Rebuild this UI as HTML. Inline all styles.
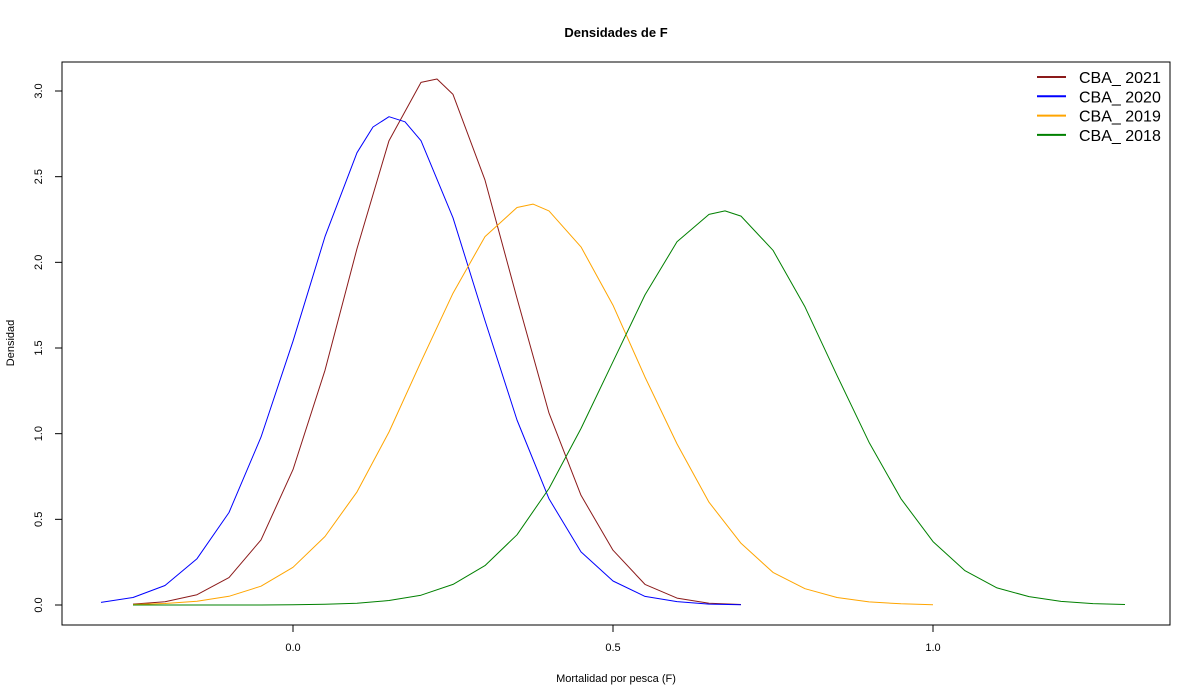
<!DOCTYPE html>
<html><head><meta charset="utf-8"><style>
body{margin:0;background:#fff;}
svg{display:block;font-family:"Liberation Sans",Arial,sans-serif;}
</style></head><body>
<svg id="chart" width="1200" height="700">
<rect x="0" y="0" width="1200" height="700" fill="#fff"/>
<text x="616" y="37" text-anchor="middle" font-size="13" font-weight="bold">Densidades de F</text>
<rect x="62" y="62" width="1108" height="563" fill="none" stroke="#000" stroke-width="1"/>
<text x="616" y="682" text-anchor="middle" font-size="11">Mortalidad por pesca (F)</text>
<text transform="translate(14,343) rotate(-90)" text-anchor="middle" font-size="11">Densidad</text>
<g id="axes"></g>
<g id="series"></g>
<g id="legend"></g>
</svg>
<script>
const xTicks=[0.0,0.5,1.0];
const xTickLabels=["0.0","0.5","1.0"];
const yTicks=[0,0.5,1,1.5,2,2.5,3];
const yTickLabels=["0.0","0.5","1.0","1.5","2.0","2.5","3.0"];
const seriesNames=["CBA_ 2021","CBA_ 2020","CBA_ 2019","CBA_ 2018"];
const seriesColors=["#8b1a1a","#0000ff","#ffa500","#008000"];
const x2021=[-0.25,-0.2,-0.15,-0.1,-0.05,0,0.05,0.1,0.15,0.2,0.225,0.25,0.3,0.35,0.4,0.45,0.5,0.55,0.6,0.65,0.7];
const y2021=[0.005,0.019,0.06,0.16,0.38,0.79,1.37,2.08,2.71,3.05,3.07,2.98,2.48,1.79,1.12,0.64,0.32,0.12,0.04,0.01,0.003];
const x2020=[-0.3,-0.25,-0.2,-0.15,-0.1,-0.05,0,0.05,0.1,0.125,0.15,0.175,0.2,0.25,0.3,0.35,0.4,0.45,0.5,0.55,0.6,0.65,0.7];
const y2020=[0.015,0.044,0.114,0.27,0.54,0.98,1.54,2.15,2.64,2.79,2.85,2.82,2.71,2.26,1.66,1.08,0.62,0.31,0.14,0.05,0.02,0.005,0.001];
const x2019=[-0.25,-0.2,-0.15,-0.1,-0.05,0,0.05,0.1,0.15,0.2,0.25,0.3,0.35,0.375,0.4,0.45,0.5,0.55,0.6,0.65,0.7,0.75,0.8,0.85,0.9,0.95,1.0];
const y2019=[0.003,0.009,0.022,0.051,0.11,0.22,0.40,0.66,1.01,1.42,1.82,2.15,2.32,2.34,2.30,2.09,1.75,1.33,0.94,0.60,0.36,0.19,0.095,0.044,0.018,0.007,0.002];
const x2018=[-0.25,-0.2,-0.15,-0.1,-0.05,0,0.05,0.1,0.15,0.2,0.25,0.3,0.35,0.4,0.45,0.5,0.55,0.6,0.65,0.675,0.7,0.75,0.8,0.85,0.9,0.95,1.0,1.05,1.1,1.15,1.2,1.25,1.3];
const y2018=[0,0,0,0,0,0.001,0.004,0.01,0.026,0.057,0.12,0.23,0.41,0.68,1.03,1.42,1.81,2.12,2.28,2.30,2.27,2.07,1.74,1.34,0.95,0.62,0.37,0.20,0.10,0.049,0.021,0.008,0.003];

const NS="http://www.w3.org/2000/svg";
function sx(v){return 293+v*640;}
function sy(v){return 605-v*171.33;}
const axes=document.getElementById('axes');
function mk(tag,attrs,parent){const e=document.createElementNS(NS,tag);for(const k in attrs)e.setAttribute(k,attrs[k]);parent.appendChild(e);return e;}
const xl=mk('line',{x1:sx(xTicks[0]),x2:sx(xTicks[xTicks.length-1]),y1:625,y2:625,stroke:'#000'},axes);


xTicks.forEach((t,i)=>{
  const l=mk('line',{x1:sx(t),x2:sx(t),y1:625,y2:632,stroke:'#000'},axes);
  
  
  const tx=mk('text',{x:sx(t),y:651,'text-anchor':'middle','font-size':'11'},axes);
  tx.textContent=xTickLabels[i];
  
  
});
const yl=mk('line',{x1:62,x2:62,y1:sy(yTicks[0]),y2:sy(yTicks[yTicks.length-1]),stroke:'#000'},axes);


yTicks.forEach((t,i)=>{
  const l=mk('line',{x1:55,x2:62,y1:sy(t),y2:sy(t),stroke:'#000'},axes);
  
  
  const tx=mk('text',{transform:`translate(42,${sy(t)}) rotate(-90)`,'text-anchor':'middle','font-size':'11'},axes);
  tx.textContent=yTickLabels[i];
  
  
});
const sg=document.getElementById('series');
const data=[[x2021,y2021],[x2020,y2020],[x2019,y2019],[x2018,y2018]];
const snames=['line-cba-2021','line-cba-2020','line-cba-2019','line-cba-2018'];
data.forEach((d,i)=>{
  const pts=d[0].map((x,j)=>sx(x).toFixed(1)+','+sy(d[1][j]).toFixed(1)).join(' ');
  const p=mk('polyline',{points:pts,fill:'none',stroke:seriesColors[i],'stroke-width':'1','stroke-linejoin':'round'},sg);
  
  
});
const lg=document.getElementById('legend');
seriesNames.forEach((n,i)=>{
  const y=77+i*19.3;
  const l=mk('line',{x1:1037,x2:1066,y1:y,y2:y,stroke:seriesColors[i],'stroke-width':'2'},lg);
  
  
  const t=mk('text',{x:1079,y:y+6,'font-size':'16'},lg);
  t.textContent=n;
  
  
});
</script>
</body></html>
